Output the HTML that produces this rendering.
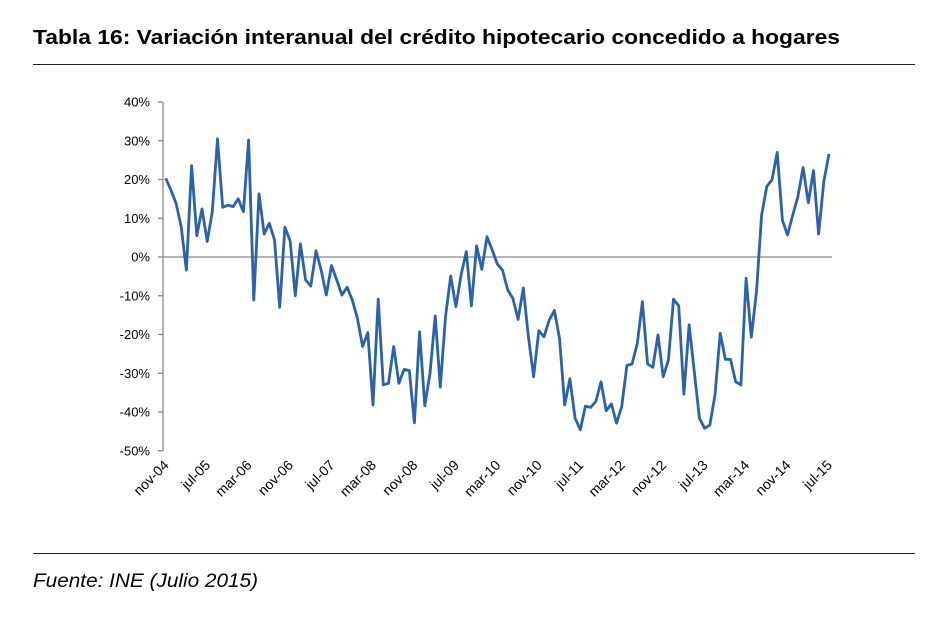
<!DOCTYPE html>
<html><head><meta charset="utf-8"><style>
body{margin:0;background:#fff;width:950px;height:627px;overflow:hidden;font-family:"Liberation Sans",sans-serif}
</style></head><body>
<svg width="950" height="627" xmlns="http://www.w3.org/2000/svg">
<text x="33" y="44" font-size="20.5" font-weight="bold" fill="#000" textLength="807" lengthAdjust="spacingAndGlyphs">Tabla 16:  Variación interanual del crédito hipotecario concedido a hogares</text>
<line x1="33" y1="64.5" x2="915" y2="64.5" stroke="#222" stroke-width="1"/>
<line x1="33" y1="553.5" x2="915" y2="553.5" stroke="#222" stroke-width="1"/>
<text x="33" y="587" font-size="19" font-style="italic" fill="#000" textLength="225" lengthAdjust="spacingAndGlyphs">Fuente:  INE (Julio 2015)</text>
<g id="axes"></g>
<g id="plot"></g>
</svg>
<script>
const values = [20.3,17.3,13.8,7.8,-3.4,23.6,5.5,12.4,4.0,11.7,30.5,12.8,13.4,13.0,15.0,11.7,30.2,-11.1,16.3,5.9,8.7,4.4,-13.0,7.7,4.2,-10.0,3.4,-5.9,-7.5,1.6,-3.4,-9.8,-2.2,-5.9,-9.8,-7.8,-11.1,-15.8,-23.1,-19.5,-38.2,-10.9,-33.0,-32.6,-23.1,-32.6,-29.0,-29.3,-42.8,-19.3,-38.4,-30.0,-15.2,-33.6,-15.4,-4.9,-12.8,-4.6,1.4,-12.6,2.9,-3.2,5.2,1.8,-1.8,-3.4,-8.5,-10.7,-16.1,-8.0,-20.6,-30.9,-19.0,-20.6,-16.3,-13.8,-21.0,-38.2,-31.4,-41.6,-44.6,-38.5,-38.8,-37.3,-32.2,-39.7,-37.9,-42.9,-38.6,-28.0,-27.6,-22.3,-11.5,-27.6,-28.5,-20.1,-30.9,-26.6,-10.9,-12.6,-35.4,-17.5,-29.6,-41.6,-44.2,-43.4,-35.6,-19.7,-26.4,-26.4,-32.2,-33.0,-5.5,-20.7,-8.9,10.8,18.2,19.9,27.0,9.5,5.7,10.8,15.6,23.1,14.0,22.3,5.9,19.4,26.6];
const yTicks = [40,30,20,10,0,-10,-20,-30,-40,-50];
const xLabels = ["nov-04","jul-05","mar-06","nov-06","jul-07","mar-08","nov-08","jul-09","mar-10","nov-10","jul-11","mar-12","nov-12","jul-13","mar-14","nov-14","jul-15"];
const labelStep = 8;

const NS="http://www.w3.org/2000/svg";
const x0=165.7, xStep=(829-165.7)/128;
const xs=i=>x0+i*xStep;
const ys=v=>257-(v)*3.875;
const axes=document.getElementById('axes'), plot=document.getElementById('plot');
function mk(tag,attrs,parent){const e=document.createElementNS(NS,tag);for(const k in attrs)e.setAttribute(k,attrs[k]);parent.appendChild(e);return e;}

const ax=mk('line',{x1:163,y1:ys(40),x2:163,y2:ys(-50),stroke:'#888','stroke-width':1.3},axes);


yTicks.forEach(t=>{
  const tk=mk('line',{x1:158,y1:ys(t),x2:163,y2:ys(t),stroke:'#888','stroke-width':1.3},axes);
  
  
  const tx=mk('text',{x:150,y:ys(t)+4.5,'text-anchor':'end','font-size':13,fill:'#000'},axes);
  tx.textContent=t+'%';
  
  
});
const zl=mk('line',{x1:163,y1:ys(0),x2:832,y2:ys(0),stroke:'#888','stroke-width':1.3},axes);


xLabels.forEach((l,k)=>{
  const x=xs(k*labelStep)+4, y=466;
  const tx=mk('text',{x:x,y:y,'text-anchor':'end','font-size':14,fill:'#000',transform:`rotate(-45 ${x} ${y})`},axes);
  tx.textContent=l;
  
  
});
const pts=values.map((v,i)=>xs(i).toFixed(1)+','+ys(v).toFixed(1)).join(' ');
const line=mk('polyline',{points:pts,fill:'none',stroke:'#2a62ab','stroke-width':2.8,'stroke-linejoin':'round'},plot);


</script>
</body></html>
